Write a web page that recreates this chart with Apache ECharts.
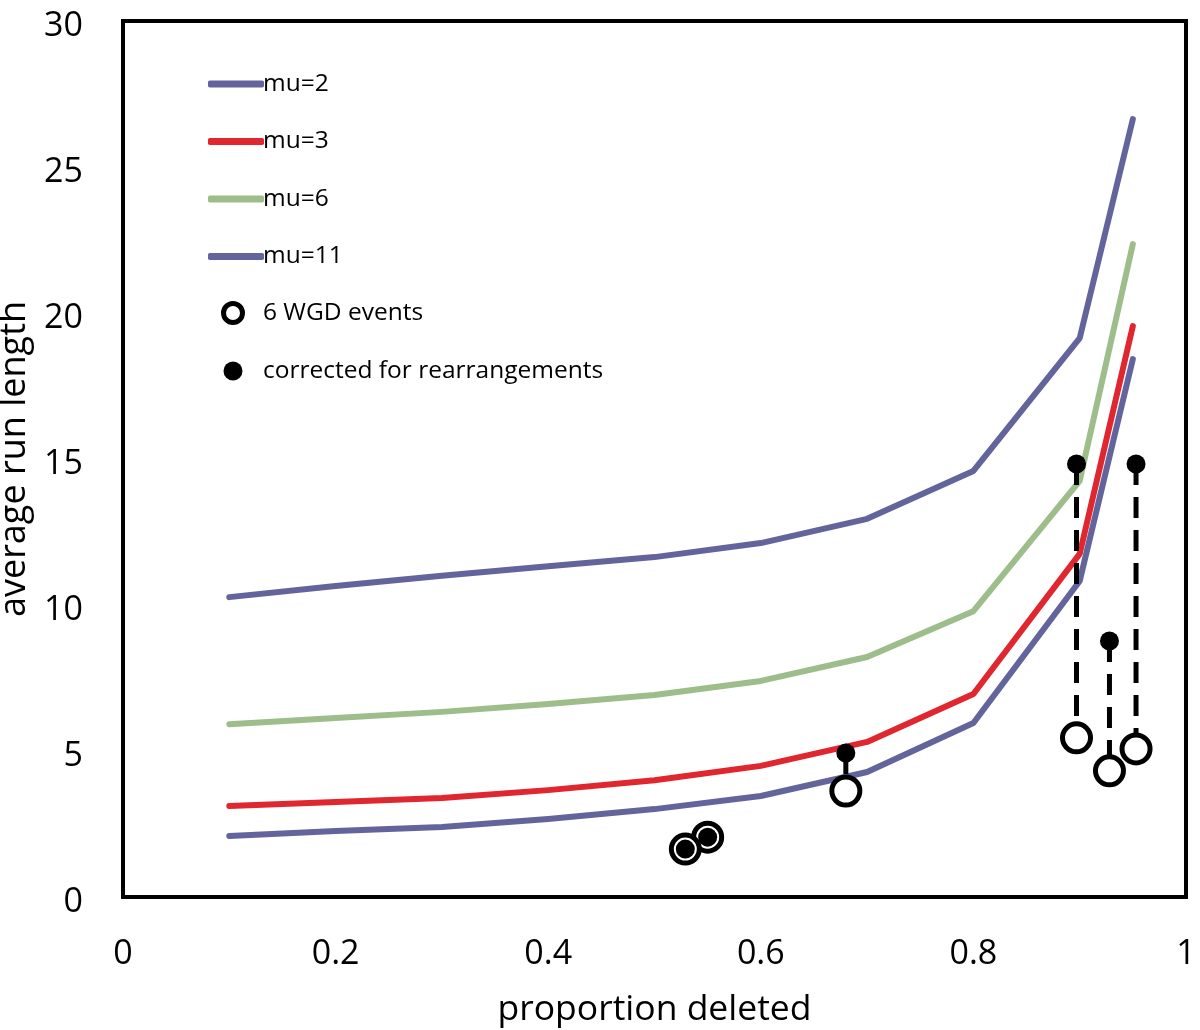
<!DOCTYPE html>
<html>
<head>
<meta charset="utf-8">
<script src="https://cdn.jsdelivr.net/npm/echarts@6/dist/echarts.min.js"></script>
<style>html,body{margin:0;padding:0;background:#fff;}#c{width:1200px;height:1030px;}</style>
</head>
<body>
<div id="c"></div>
<script>
// ---- data ----
const xs = [0.1, 0.2, 0.3, 0.4, 0.5, 0.6, 0.7, 0.8, 0.9, 0.95];
const mu2 = [2.09, 2.26, 2.40, 2.67, 3.01, 3.46, 4.28, 5.96, 10.82, 18.42];
const mu3 = [3.12, 3.25, 3.39, 3.66, 4.00, 4.49, 5.31, 6.95, 11.75, 19.55];
const mu6 = [5.92, 6.13, 6.34, 6.61, 6.92, 7.40, 8.22, 9.79, 14.25, 22.36];
const mu11 = [10.27, 10.65, 11.00, 11.33, 11.64, 12.12, 12.95, 14.59, 19.14, 26.64];
const wgdX = [0.550, 0.529, 0.680, 0.897, 0.928, 0.953];
const wgdY = [2.05, 1.64, 3.63, 5.45, 4.32, 5.07];
const corrY = [2.05, 1.64, 4.93, 14.83, 8.77, 14.83];
const xTicks = ['0', '0.2', '0.4', '0.6', '0.8', '1'];

const PURPLE = '#64649c', RED = '#e0262e', GREEN = '#9dbd8b';
const FONT = 'Open Sans';

function lineSeries(name, ys, color) {
  return {
    name: name, type: 'line', symbol: 'none', z: 2,
    data: xs.map((x, i) => [x, ys[i]]),
    lineStyle: { color: color, width: 6, cap: 'round', join: 'round' },
    itemStyle: { color: color }
  };
}

const series = [
  lineSeries('mu=11', mu11, PURPLE),
  lineSeries('mu=6', mu6, GREEN),
  lineSeries('mu=3', mu3, RED),
  lineSeries('mu=2', mu2, PURPLE)
];
// connectors
wgdX.forEach((x, i) => {
  series.push({
    name: 'conn' + i, type: 'line', symbol: 'none', z: 3, silent: true,
    data: [[x, corrY[i]], [x, wgdY[i]]],
    lineStyle: { color: '#000', width: 5, type: [21, 12] }
  });
});
series.push({
  name: '6 WGD events', type: 'scatter', z: 4, symbol: 'circle', symbolSize: 28,
  data: wgdX.map((x, i) => [x, wgdY[i]]),
  itemStyle: { color: '#fff', borderColor: '#000', borderWidth: 5, opacity: 1 }
});
series.push({
  name: 'corrected for rearrangements', type: 'scatter', z: 5, symbol: 'circle', symbolSize: 19,
  data: wgdX.map((x, i) => [x, corrY[i]]),
  itemStyle: { color: '#000', opacity: 1 }
});

const chart = echarts.init(document.getElementById('c'), null, { renderer: 'canvas' });
chart.setOption({
  animation: false,
  backgroundColor: '#fff',
  textStyle: { fontFamily: FONT },
  grid: { left: 123, right: 14, top: 21, bottom: 133, show: true, borderColor: '#000', borderWidth: 4,
    containLabel: false, outerBoundsMode: 'none' },
  legend: [
    {
      orient: 'vertical', left: 203, top: 64, itemWidth: 56, itemHeight: 7, itemGap: 27.5,
      icon: 'roundRect',
      data: ['mu=2', 'mu=3', 'mu=6', 'mu=11'],
      textStyle: { fontFamily: FONT, fontSize: 24.5, color: '#000', lineHeight: 30, padding: [0, 0, 0, -6] },
      selectedMode: false
    },
    {
      orient: 'vertical', left: 216, top: 293, itemWidth: 56, itemHeight: 19, itemGap: 28,
      data: [
        { name: '6 WGD events', icon: 'circle', itemStyle: { color: '#fff', borderColor: '#000', borderWidth: 5 } },
        { name: 'corrected for rearrangements', icon: 'circle', itemStyle: { color: '#000' } }
      ],
      textStyle: { fontFamily: FONT, fontSize: 24.5, color: '#000', lineHeight: 30, padding: [0, 0, 0, -3] },
      selectedMode: false
    }
  ],
  xAxis: {
    type: 'value', min: 0, max: 1, interval: 0.2,
    name: 'proportion deleted', nameLocation: 'middle', nameGap: 95,
    nameTextStyle: { fontFamily: FONT, fontSize: 35.5, color: '#000' },
    axisLine: { show: false }, axisTick: { show: false }, splitLine: { show: false },
    axisLabel: { fontFamily: FONT, fontSize: 34, color: '#000', margin: 40,
      formatter: (v) => xTicks[Math.round(v / 0.2)] }
  },
  yAxis: {
    type: 'value', min: 0, max: 30, interval: 5,
    name: 'average run length', nameLocation: 'middle', nameGap: 86,
    nameTextStyle: { fontFamily: FONT, fontSize: 36, color: '#000' },
    axisLine: { show: false }, axisTick: { show: false }, splitLine: { show: false },
    axisLabel: { fontFamily: FONT, fontSize: 34, color: '#000', margin: 40, verticalAlign: 'top', lineHeight: 10 }
  },
  series: series
});
</script>
</body>
</html>
